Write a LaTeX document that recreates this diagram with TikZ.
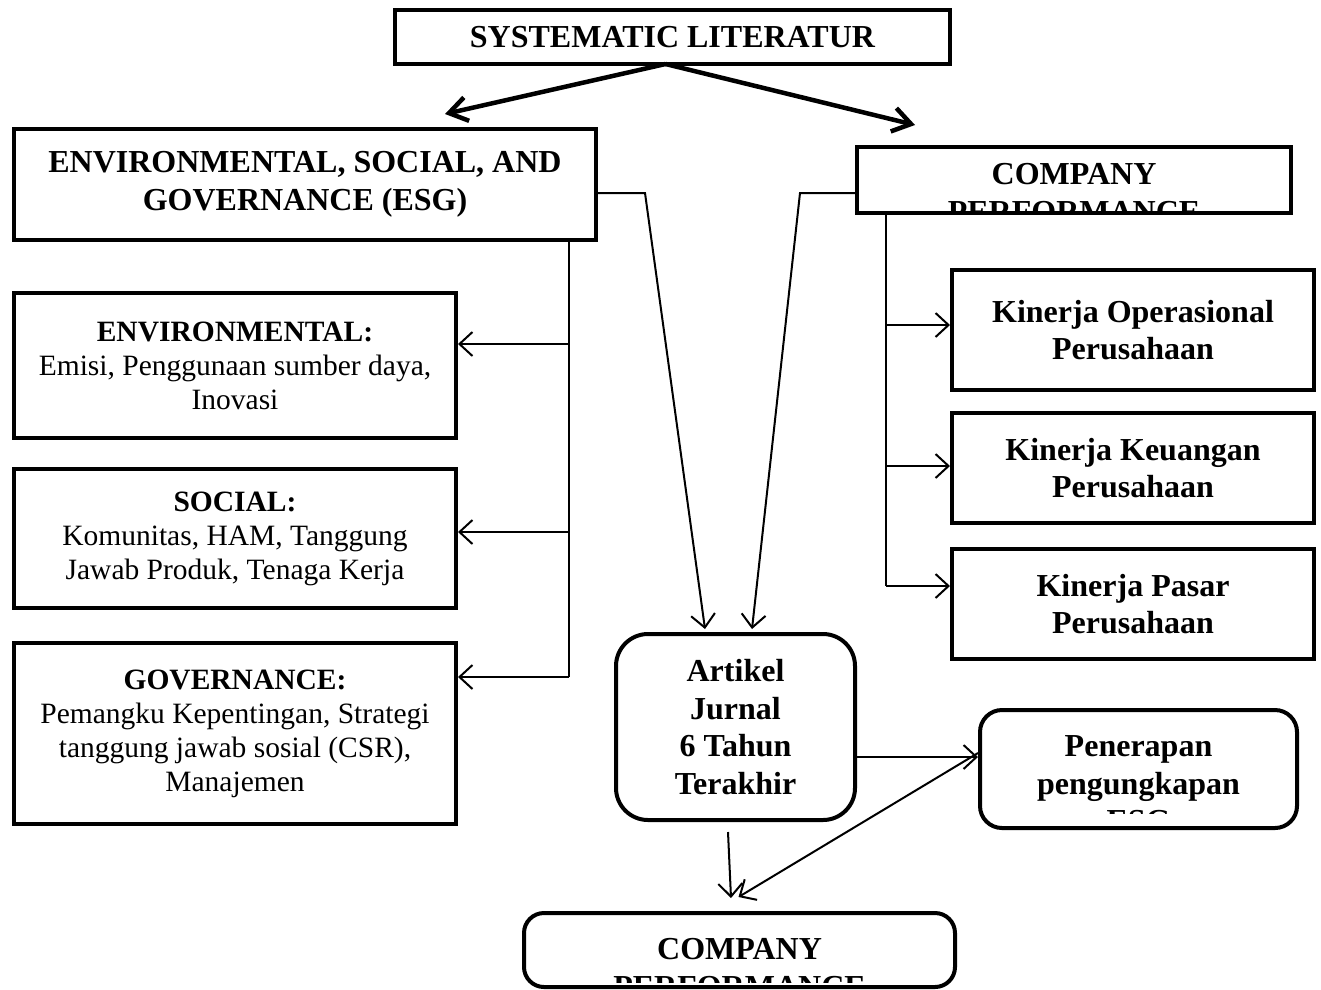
\documentclass[tikz,border=0pt]{standalone}
\usepackage{fontspec}
\setmainfont{Liberation Serif}
\usetikzlibrary{arrows.meta,calc}
\begin{document}
\begin{tikzpicture}[x=1pt,y=-1pt,
  box/.style={draw, line width=4pt, inner sep=0pt, align=center},
  bigbold/.style={font=\bfseries\fontsize{32}{37.5}\selectfont},
  small/.style={font=\fontsize{29.5}{34}\selectfont},
  thick arrow/.style={line width=4.5pt, -{Straight Barb[length=18pt,width=24pt,line width=4.5pt]}},
  conn/.style={line width=2pt},
  arr/.style={conn, -{Straight Barb[length=13pt,width=24pt,line width=2pt]}}
]
\useasboundingbox (0,0) rectangle (1321,989);

% boxes
\node[box, bigbold, minimum width=555pt, minimum height=54pt] (top) at (672.5,37) {SYSTEMATIC LITERATUR};
\node[box, bigbold, minimum width=582pt, minimum height=111pt] (esg) at (305,184.5) {ENVIRONMENTAL, SOCIAL, AND\\GOVERNANCE (ESG)};
\node[box, minimum width=434pt, minimum height=66pt,
  path picture={
    \clip (path picture bounding box.north west) rectangle ($(path picture bounding box.south east)+(0,-2)$);
    \node[bigbold, align=center] at ($(path picture bounding box.center)+(0,13)$) {COMPANY\\PERFORMANCE};}] (cp) at (1074,180) {};

\node[box, bigbold, minimum width=362pt, minimum height=120pt] (k1) at (1133,330) {Kinerja Operasional\\Perusahaan};
\node[box, bigbold, minimum width=362pt, minimum height=110pt] (k2) at (1133,468) {Kinerja Keuangan\\Perusahaan};
\node[box, bigbold, minimum width=362pt, minimum height=110pt] (k3) at (1133,604) {Kinerja Pasar\\Perusahaan};

\node[box, small, minimum width=442pt, minimum height=145pt] (env) at (235,365.5) {\textbf{ENVIRONMENTAL:}\\Emisi, Penggunaan sumber daya,\\Inovasi};
\node[box, small, minimum width=442pt, minimum height=139pt] (soc) at (235,538.5) {\textbf{SOCIAL:}\\Komunitas, HAM, Tanggung\\Jawab Produk, Tenaga Kerja};
\node[box, small, minimum width=442pt, minimum height=181pt] (gov) at (235,733.5) {\textbf{GOVERNANCE:}\\Pemangku Kepentingan, Strategi\\tanggung jawab sosial (CSR),\\Manajemen};

\node[box, bigbold, rounded corners=32pt, minimum width=239pt, minimum height=186pt] (art) at (735.5,727) {Artikel\\Jurnal\\6 Tahun\\Terakhir};
\node[box, rounded corners=22pt, minimum width=317pt, minimum height=118pt,
  path picture={
    \clip (path picture bounding box.north west) rectangle ($(path picture bounding box.south east)+(0,-15)$);
    \node[bigbold, align=center] at ($(path picture bounding box.center)+(0,15)$) {Penerapan\\pengungkapan\\ESG};}] (pen) at (1138.5,769) {};
\node[box, rounded corners=20pt, minimum width=431pt, minimum height=74pt,
  path picture={
    \clip (path picture bounding box.north west) rectangle ($(path picture bounding box.south east)+(0,-5)$);
    \node[bigbold, align=center] at ($(path picture bounding box.center)+(0,18)$) {COMPANY\\PERFORMANCE};}] (bot) at (739.5,950) {};

% top arrows
\draw[thick arrow] ($(top.south)+(-7,-2)$) -- ($(esg.north)+(140,-13)$);
\draw[thick arrow] ($(top.south)+(-7,-2)$) -- ($(cp.north)+(-159,-20)$);

% ESG and CP to Artikel
\draw[arr] ($(esg.east)+(0,8.5)$) -- ($(esg.east)+(47,8.5)$) -- ($(art.north)+(-30.5,-3)$);
\draw[arr] ($(cp.west)+(0,13)$) -- ($(cp.west)+(-55,13)$) -- ($(art.north)+(16.5,-3)$);

% ESG branches
\draw[conn] (esg.south -| 569,0) -- (569,677);
\draw[arr] (569,344) -- (env.east |- 0,344);
\draw[arr] (569,532) -- (soc.east |- 0,532);
\draw[arr] (569,677) -- (gov.east |- 0,677);

% CP branches
\draw[conn] (cp.south -| 886,0) -- (886,586);
\draw[arr] (886,325) -- (k1.west |- 0,325);
\draw[arr] (886,466) -- (k2.west |- 0,466);
\draw[arr] (886,586) -- (k3.west |- 0,586);

% Artikel / Penerapan / bottom
\draw[arr] ($(art.east)+(0,30)$) -- ($(pen.west)+(0,-12)$);
\draw[arr] ($(pen.west)+(0,-16)$) -- ($(bot.north)+(-1,-14)$);
\draw[arr] ($(art.south)+(-7.5,10)$) -- ($(bot.north)+(-8.5,-13)$);
\end{tikzpicture}
\end{document}
